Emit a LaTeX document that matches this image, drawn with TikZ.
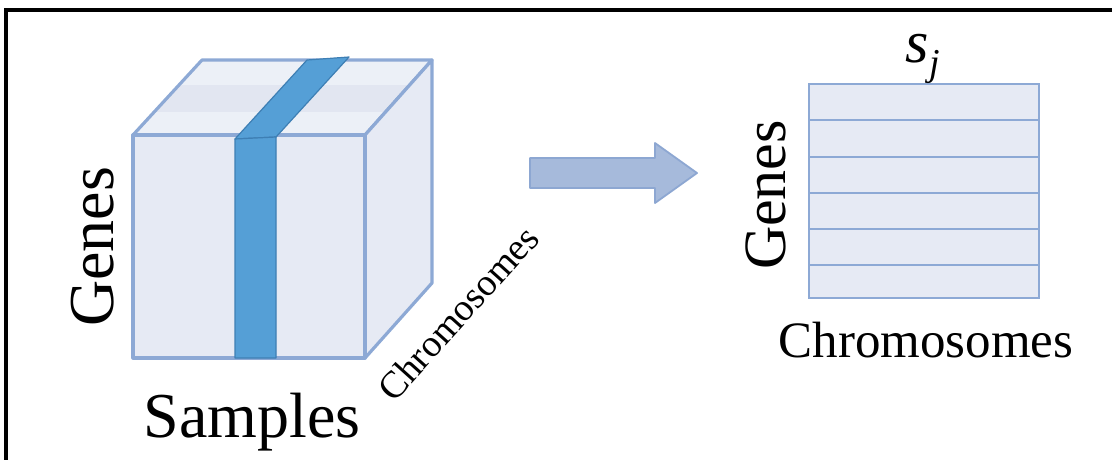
\documentclass[tikz,border=0pt]{standalone}
\usepackage{fontspec}
\setmainfont{Liberation Serif}
\begin{document}
\begin{tikzpicture}[x=1pt,y=-1pt,
  face/.style={fill=faceC, draw=edgeC, line width=3.2pt, line join=round},
  stripe/.style={fill=stripeC, draw=stripeE, line width=1.2pt, line join=round},
  lbl/.style={inner sep=0pt, outer sep=0pt, text=black},
  gridline/.style={draw=edgeC, line width=2.8pt}]
\definecolor{faceC}{HTML}{E6EAF4}
\definecolor{topC}{HTML}{ECF0F7}
\definecolor{bandC}{HTML}{E2E6F1}
\definecolor{edgeC}{HTML}{8DA9D5}
\definecolor{stripeC}{HTML}{559FD6}
\definecolor{stripeE}{HTML}{3E7FB4}
\definecolor{arrowC}{HTML}{A6BADB}
\definecolor{arrowE}{HTML}{8DA7D2}
\useasboundingbox (0,0) rectangle (1112,459);
\clip (0,0) rectangle (1112,459);
% frame
\draw[line width=3.2pt, black] (6,10) rectangle (1130,480);
% cube corners
\coordinate (fbl) at (133,358);
\coordinate (fbr) at (365,358);
\coordinate (ftl) at (133,135);
\coordinate (ftr) at (365,135);
\coordinate (btl) at (202,60);
\coordinate (btr) at (432,60);
\coordinate (bbr) at (432,283);
% top face with band
\fill[topC] (ftl) -- (btl) -- (btr) -- (ftr) -- cycle;
\begin{scope}
  \clip (ftl) -- (btl) -- (btr) -- (ftr) -- cycle;
  \fill[bandC] (100,85) rectangle (450,112);
\end{scope}
\draw[draw=edgeC, line width=3.2pt, line join=round] (ftl) -- (btl) -- (btr) -- (ftr) -- cycle;
% right face
\path[face] (ftr) -- (btr) -- (bbr) -- (fbr) -- cycle;
% front face
\path[face] (fbl) rectangle (ftr);
% stripe
\coordinate (s1) at (235,139);
\coordinate (s2) at (276,137);
\coordinate (s3) at (349,57);
\coordinate (s4) at (307,60);
\path[stripe] (s1) -- (s4) -- (s3) -- (s2) -- cycle;
\path[stripe] (s1) -- (s2) -- (276,358) -- (235,358) -- cycle;
% arrow
\path[fill=arrowC, draw=arrowE, line width=1.8pt, line join=round]
  (530,158) -- (655,158) -- (655,143) -- (697,173) -- (655,203) -- (655,188) -- (530,188) -- cycle;
% grid
\path[fill=faceC, draw=edgeC, line width=2.8pt] (809,84) coordinate (ga) rectangle (1039,298) coordinate (gb);
\foreach \yy in {120,157,193,229,265} {\draw[gridline] (809,\yy) -- (1039,\yy);}
% labels
\node[lbl, rotate=90, anchor=base] (genesL) at (113,247) {\fontsize{64}{64}\selectfont Genes};
\node[lbl, anchor=base] (samples) at (252,437) {\fontsize{64}{64}\selectfont Samples};
\node[lbl, rotate=48, anchor=center] (chromL) at (458,313) {\fontsize{38}{38}\selectfont Chromosomes};
\node[lbl, rotate=90, anchor=base] (genesR) at (785,195) {\fontsize{60}{60}\selectfont Genes};
\node[lbl, anchor=base] (chromR) at (926,357) {\fontsize{51}{51}\selectfont Chromosomes};
\node[lbl, anchor=base west] (sj) at (905,62) {\fontsize{60}{60}\selectfont\itshape s\kern1pt\raisebox{-13pt}{\fontsize{38}{38}\selectfont j}};
\end{tikzpicture}
\end{document}
